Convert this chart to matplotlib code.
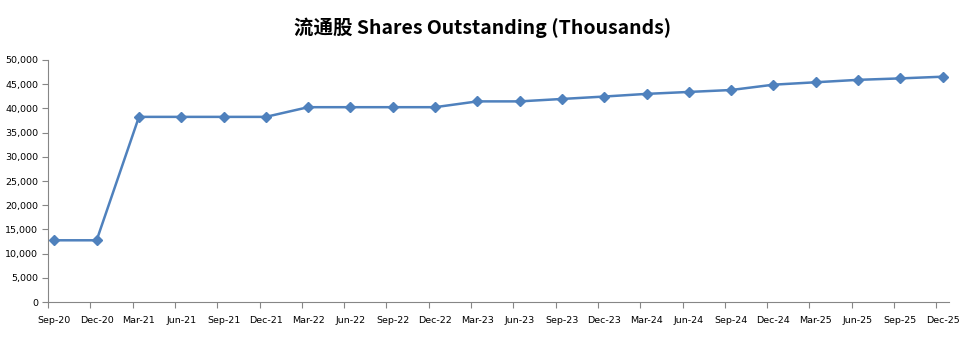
import matplotlib.pyplot as plt
from matplotlib.ticker import FuncFormatter

plt.rcParams['font.family'] = ['Noto Sans CJK SC', 'DejaVu Sans']

quarters = ['Sep-20', 'Dec-20', 'Mar-21', 'Jun-21', 'Sep-21', 'Dec-21',
            'Mar-22', 'Jun-22', 'Sep-22', 'Dec-22', 'Mar-23', 'Jun-23',
            'Sep-23', 'Dec-23', 'Mar-24', 'Jun-24', 'Sep-24', 'Dec-24',
            'Mar-25', 'Jun-25', 'Sep-25', 'Dec-25']
shares = [12750, 12750, 38250, 38250, 38250, 38250,
          40250, 40250, 40250, 40250, 41450, 41450,
          41950, 42450, 43000, 43400, 43800, 44900,
          45400, 45900, 46200, 46550]

fig = plt.figure(figsize=(9.75, 3.39), dpi=100)
ax = fig.add_axes([48/975, 1 - 302/339, (949-48)/975, (302-60)/339])

x = list(range(len(quarters)))
ax.plot(x, shares, color='#4F81BD', linewidth=1.8, marker='D', markersize=5.5,
        markerfacecolor='#4F81BD', markeredgecolor='#4F81BD')

ax.set_ylim(0, 50000)
ax.set_yticks(range(0, 50001, 5000))
ax.yaxis.set_major_formatter(FuncFormatter(lambda v, p: f'{int(v):,}'))

# tick marks sit a little left of each point, labels centred on the points
ax.set_xlim(-0.15, 21.15)
ax.set_xticks([i - 0.15 for i in x])
ax.set_xticklabels([])
ax.set_xticks(x, minor=True)
ax.set_xticklabels(quarters, minor=True, family='DejaVu Sans')
ax.tick_params(axis='x', which='minor', length=0, labelsize=6.8, pad=10)

for side in ('top', 'right'):
    ax.spines[side].set_visible(False)
for side in ('left', 'bottom'):
    ax.spines[side].set_color('#868686')
ax.tick_params(axis='both', which='major', colors='#868686', labelcolor='black',
               length=4, width=0.8)
ax.tick_params(axis='y', labelsize=6.8, pad=3)
for lbl in ax.get_yticklabels():
    lbl.set_family('DejaVu Sans')

fig.text(483/975, 1 - 28/339, '流通股 Shares Outstanding (Thousands)',
         ha='center', va='center', fontsize=14, fontweight='bold')

fig.savefig('out.png', dpi=100)
